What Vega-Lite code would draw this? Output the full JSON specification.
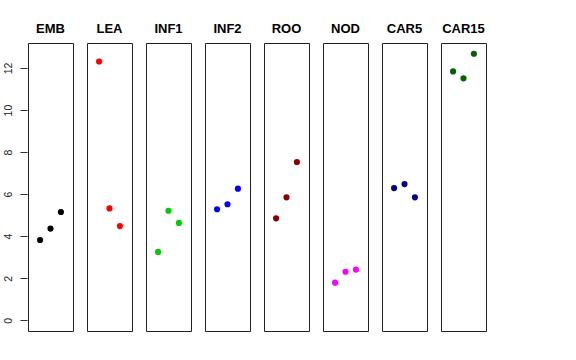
{
  "$schema": "https://vega.github.io/schema/vega-lite/v6.json",
  "background": "white",
  "padding": {"left": 3, "top": 23, "right": 5, "bottom": 5},
  "data": {"values": [
    {"group": "EMB", "idx": 1, "value": 3.82},
    {"group": "EMB", "idx": 2, "value": 4.36},
    {"group": "EMB", "idx": 3, "value": 5.15},
    {"group": "LEA", "idx": 1, "value": 12.31},
    {"group": "LEA", "idx": 2, "value": 5.32},
    {"group": "LEA", "idx": 3, "value": 4.48},
    {"group": "INF1", "idx": 1, "value": 3.25},
    {"group": "INF1", "idx": 2, "value": 5.21},
    {"group": "INF1", "idx": 3, "value": 4.63},
    {"group": "INF2", "idx": 1, "value": 5.28},
    {"group": "INF2", "idx": 2, "value": 5.52},
    {"group": "INF2", "idx": 3, "value": 6.26},
    {"group": "ROO", "idx": 1, "value": 4.85},
    {"group": "ROO", "idx": 2, "value": 5.85},
    {"group": "ROO", "idx": 3, "value": 7.53},
    {"group": "NOD", "idx": 1, "value": 1.79},
    {"group": "NOD", "idx": 2, "value": 2.31},
    {"group": "NOD", "idx": 3, "value": 2.41},
    {"group": "CAR5", "idx": 1, "value": 6.29},
    {"group": "CAR5", "idx": 2, "value": 6.48},
    {"group": "CAR5", "idx": 3, "value": 5.85},
    {"group": "CAR15", "idx": 1, "value": 11.84},
    {"group": "CAR15", "idx": 2, "value": 11.51},
    {"group": "CAR15", "idx": 3, "value": 12.68}
  ]},
  "facet": {
    "column": {
      "field": "group",
      "type": "nominal",
      "sort": ["EMB", "LEA", "INF1", "INF2", "ROO", "NOD", "CAR5", "CAR15"],
      "header": {
        "title": null,
        "labelFont": "Liberation Sans",
        "labelFontWeight": "bold",
        "labelFontSize": 13,
        "labelColor": "black",
        "labelPadding": 6
      }
    }
  },
  "spacing": 12,
  "spec": {
    "width": 45,
    "height": 288,
    "mark": {"type": "circle", "size": 38, "opacity": 1},
    "encoding": {
      "x": {
        "field": "idx",
        "type": "quantitative",
        "scale": {"domain": [-0.16, 4.16], "nice": false, "zero": false},
        "axis": null
      },
      "y": {
        "field": "value",
        "type": "quantitative",
        "scale": {"domain": [-0.51, 13.19], "nice": false, "zero": false},
        "axis": {
          "title": null,
          "values": [0, 2, 4, 6, 8, 10, 12],
          "domain": false,
          "grid": false,
          "tickSize": 7,
          "tickColor": "#333",
          "labelAngle": 270,
          "labelAlign": "center",
          "labelBaseline": "bottom",
          "labelPadding": 7,
          "labelFont": "Liberation Sans",
          "labelFontSize": 10.5,
          "labelColor": "#222"
        }
      },
      "color": {
        "field": "group",
        "type": "nominal",
        "scale": {
          "domain": ["EMB", "LEA", "INF1", "INF2", "ROO", "NOD", "CAR5", "CAR15"],
          "range": ["#000000", "#FF0000", "#00CD00", "#0000FF", "#8B0000", "#FF00FF", "#00008B", "#006400"]
        },
        "legend": null
      }
    }
  },
  "config": {
    "view": {"stroke": "#222", "strokeWidth": 1}
  }
}
